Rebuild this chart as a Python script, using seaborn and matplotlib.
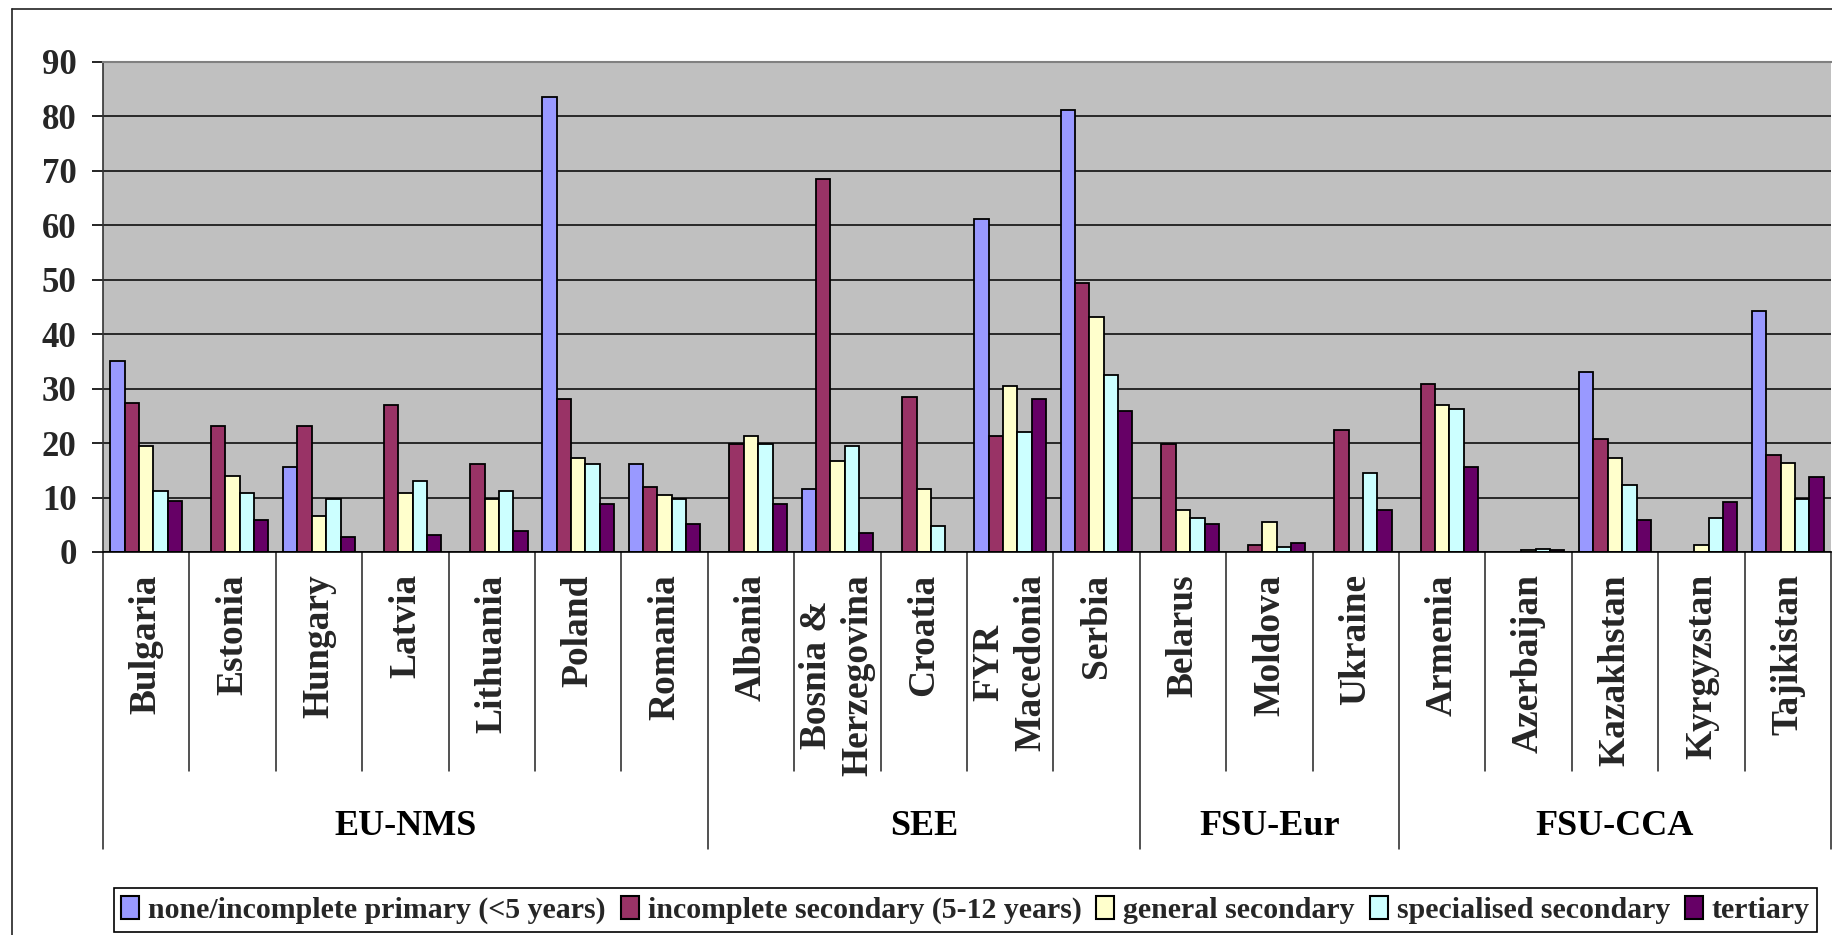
import numpy as np
import pandas as pd
import matplotlib
matplotlib.use("Agg")
import matplotlib.pyplot as plt
from matplotlib.lines import Line2D
import seaborn as sns

nan = np.nan

countries = ["Bulgaria", "Estonia", "Hungary", "Latvia", "Lithuania", "Poland", "Romania",
             "Albania", "Bosnia &\nHerzegovina", "Croatia", "FYR\nMacedonia", "Serbia",
             "Belarus", "Moldova", "Ukraine",
             "Armenia", "Azerbaijan", "Kazakhstan", "Kyrgyzstan", "Tajikistan"]
group_names = ["EU-NMS", "SEE", "FSU-Eur", "FSU-CCA"]
group_sizes = [7, 5, 3, 5]

levels = ["none/incomplete primary (<5 years)", "incomplete secondary (5-12 years)",
          "general secondary", "specialised secondary", "tertiary"]

none_primary = [35.0, nan, 15.7, nan, nan, 83.6, 16.1, nan, 11.5, nan, 61.1, 81.2,
                nan, nan, nan, nan, nan, 33.0, nan, 44.2]
incomplete_secondary = [27.4, 23.1, 23.1, 27.0, 16.1, 28.1, 11.9, 19.9, 68.5, 28.4, 21.3, 49.5,
                        19.9, 1.3, 22.4, 30.9, nan, 20.7, nan, 17.8]
general_secondary = [19.5, 14.0, 6.6, 10.8, 9.8, 17.2, 10.5, 21.3, 16.7, 11.5, 30.5, 43.1,
                     7.7, 5.5, nan, 27.0, 0.3, 17.2, 1.3, 16.4]
specialised_secondary = [11.2, 10.8, 9.8, 13.0, 11.2, 16.1, 9.8, 19.9, 19.5, 4.8, 22.1, 32.6,
                         6.3, 0.9, 14.6, 26.3, 0.6, 12.3, 6.3, 9.8]
tertiary = [9.4, 5.9, 2.7, 3.1, 3.8, 8.8, 5.2, 8.8, 3.4, nan, 28.1, 25.9,
            5.2, 1.7, 7.7, 15.7, 0.3, 5.9, 9.1, 13.7]

colors = ["#9999FF", "#993366", "#FFFFCC", "#CCFFFF", "#660066"]
y_ticks = [0, 10, 20, 30, 40, 50, 60, 70, 80, 90]

series = [none_primary, incomplete_secondary, general_secondary, specialised_secondary, tertiary]
rows = []
for lvl, vals in zip(levels, series):
    for c, v in zip(countries, vals):
        rows.append({"country": c, "level": lvl, "value": v})
df = pd.DataFrame(rows)

sns.set_theme(style="white")
plt.rcParams["font.family"] = ["Liberation Serif", "DejaVu Serif"]
plt.rcParams["font.weight"] = "bold"

W, H = 1832, 935
fig = plt.figure(figsize=(W / 100, H / 100), dpi=100)
fig.patch.set_facecolor("white")

L, R, T, B = 103, 1831, 62, 552
ax = fig.add_axes([L / W, 1 - B / H, (R - L) / W, (B - T) / H])
ax.set_facecolor("#C0C0C0")

sns.barplot(data=df, x="country", y="value", hue="level", order=countries,
            hue_order=levels, palette=colors, width=0.83, edgecolor="black",
            linewidth=1.3, errorbar=None, ax=ax, saturation=1)

ax.set_ylim(0, 90)
ax.set_xlim(-0.5, len(countries) - 0.5)
ax.set_yticks(y_ticks)
ax.yaxis.grid(True, color="black", linewidth=1.1)
ax.xaxis.grid(False)
ax.set_axisbelow(True)
ax.set_xlabel("")
ax.set_ylabel("")
for lab in ax.get_yticklabels():
    lab.set_fontsize(25)
    lab.set_fontweight("bold")
ax.tick_params(axis="y", left=True, length=8, width=1.2, color="black", pad=11)
ax.tick_params(axis="x", bottom=False, length=0, pad=16)
ax.set_xticks(range(len(countries)))
ax.set_xticklabels(countries, rotation=90, fontsize=27, fontweight="bold",
                   va="top", ha="center", multialignment="center", linespacing=1.25)

ax.spines["left"].set_color("#333333")
ax.spines["left"].set_linewidth(1.2)
ax.spines["bottom"].set_color("black")
ax.spines["bottom"].set_linewidth(1.2)
ax.spines["top"].set_color("#808080")
ax.spines["top"].set_linewidth(1.5)
ax.spines["right"].set_visible(False)

# multilevel category separators
tr = ax.get_xaxis_transform()
y_cat = (B - 771) / (B - T)
y_grp = (B - 849) / (B - T)
group_edges = np.cumsum([0] + group_sizes)
for i in range(len(countries) + 1):
    x = i - 0.5
    yb = y_grp if i in group_edges else y_cat
    ax.add_line(Line2D([x, x], [0, yb], transform=tr, color="#222222",
                       linewidth=1.1, clip_on=False))

y_lab = (B - 827) / (B - T)
for name, s, e in zip(group_names, group_edges[:-1], group_edges[1:]):
    xc = (s + e - 1) / 2
    ax.text(xc, y_lab, name, transform=tr, ha="center", va="center",
            fontsize=26, fontweight="bold", color="black")

# legend
sns.move_legend(ax, loc="center", bbox_to_anchor=((114 + 1817) / 2 / W, 1 - 910 / H),
                bbox_transform=fig.transFigure, ncol=5, title=None, frameon=True,
                fontsize=21.5, handlelength=0.6, handleheight=0.8, handletextpad=0.3,
                columnspacing=0.5, borderpad=0.25, fancybox=False, framealpha=1,
                edgecolor="black")
leg = ax.get_legend()
leg.get_frame().set_linewidth(1.2)
for t in leg.get_texts():
    t.set_fontweight("bold")
for h in leg.legend_handles:
    h.set_edgecolor("black")
    h.set_linewidth(1.5)

# outer chart frame
fig.add_artist(Line2D([12 / W, 12 / W], [0, 1 - 9 / H], transform=fig.transFigure,
                      color="#222222", linewidth=1.2))
fig.add_artist(Line2D([12 / W, 1], [1 - 9 / H, 1 - 9 / H], transform=fig.transFigure,
                      color="#222222", linewidth=1.2))

fig.savefig("out.png", dpi=100, facecolor="white")
